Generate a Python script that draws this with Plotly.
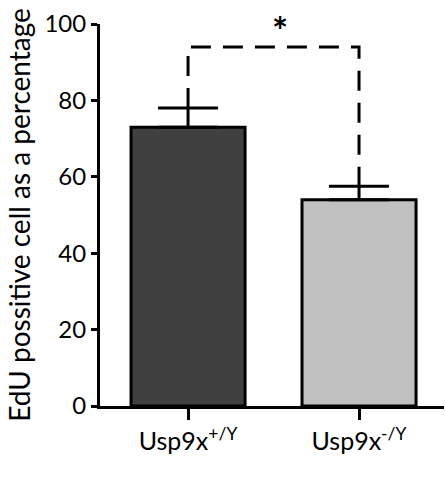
import plotly.graph_objects as go

categories = ["Usp9x<sup>+/Y</sup>", "Usp9x<sup>-/Y</sup>"]
means = [73.0, 54.0]
errors = [5.0, 3.5]
colors = ["#404040", "#c0c0c0"]
bracket_y = 94
sig_label = "*"
y_ticks = [0, 20, 40, 60, 80, 100]

xpos = list(range(len(categories)))
font = "Lato, 'Open Sans', sans-serif"

fig = go.Figure()
fig.add_trace(go.Bar(
    x=xpos, y=means, width=0.667,
    marker=dict(color=colors, line=dict(color="black", width=3)),
    error_y=dict(type="data", symmetric=False, array=errors, arrayminus=[0, 0],
                 color="black", thickness=3, width=30),
    showlegend=False,
))
tops = [m + e for m, e in zip(means, errors)]
fig.add_trace(go.Scatter(
    x=[xpos[0], xpos[0], xpos[1], xpos[1]],
    y=[tops[0], bracket_y, bracket_y, tops[1]],
    mode="lines", line=dict(color="black", width=3, dash="20px,12px"),
    showlegend=False, hoverinfo="skip",
))
fig.add_annotation(x=0.54, y=bracket_y + 4.5, text="<b>" + sig_label + "</b>",
                   showarrow=False, font=dict(size=38, color="black", family=font),
                   yanchor="middle")

fig.update_layout(
    width=445, height=478,
    margin=dict(l=100, r=1, t=24, b=72),
    plot_bgcolor="white", paper_bgcolor="white",
    font=dict(family=font, size=23, color="black"),
)
fig.update_xaxes(
    range=[-0.515, 1.497], tickvals=xpos, ticktext=categories,
    showline=True, linecolor="black", linewidth=3,
    ticks="outside", ticklen=11, tickwidth=3, tickcolor="black",
    showgrid=False, zeroline=False, tickfont=dict(size=25),
)
fig.update_yaxes(
    range=[0, 100], tickvals=y_ticks,
    showline=True, linecolor="black", linewidth=3,
    ticks="outside", ticklen=6, tickwidth=3, tickcolor="black",
    showgrid=False, zeroline=False, tickfont=dict(size=24),
    title=dict(text="EdU possitive cell as a percentage", font=dict(size=28), standoff=6),
)
fig.write_html("out.html")
